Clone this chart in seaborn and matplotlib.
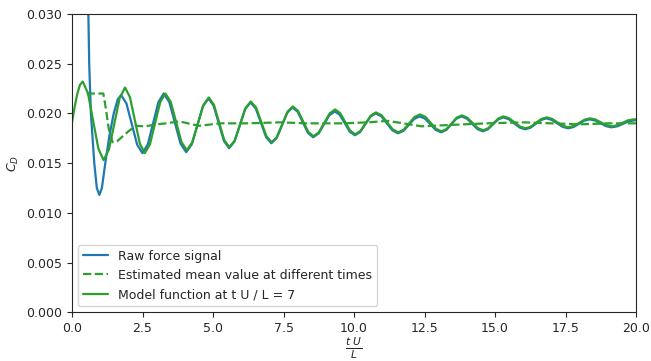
import numpy as np
import pandas as pd
import matplotlib
matplotlib.use('Agg')
import matplotlib.pyplot as plt
import seaborn as sns

# ---------------- values ----------------
# raw force signal (blue)
raw_t = [0.50, 0.58, 0.61, 0.67, 0.79, 0.88, 0.97, 1.06, 1.18, 1.33, 1.48, 1.62, 1.74,
         1.93, 2.12, 2.31, 2.50, 2.6875, 2.875, 3.0625, 3.25,
         3.45, 3.65, 3.85, 4.05, 4.2475, 4.445, 4.6425, 4.84,
         5.0225, 5.205, 5.3875, 5.57, 5.76, 5.95, 6.14, 6.33,
         6.515, 6.70, 6.885, 7.07, 7.2575, 7.445, 7.6325, 7.82,
         8.0025, 8.185, 8.3675, 8.55, 8.7425, 8.935, 9.1275, 9.32,
         9.4975, 9.675, 9.8525, 10.03, 10.215, 10.40, 10.585, 10.77,
         10.9675, 11.165, 11.3625, 11.56, 11.7525, 11.945, 12.1375, 12.33,
         12.52, 12.71, 12.90, 13.09, 13.27, 13.45, 13.63, 13.81,
         14.00, 14.19, 14.38, 14.57, 14.75, 14.93, 15.11, 15.29,
         15.485, 15.68, 15.875, 16.07, 16.2575, 16.445, 16.6325, 16.82,
         17.0125, 17.205, 17.3975, 17.59, 17.7825, 17.975, 18.1675, 18.36,
         18.5525, 18.745, 18.9375, 19.13, 19.3325, 19.535, 19.7375, 19.94, 20.0]
raw_cd = [0.0400, 0.0300, 0.0250, 0.0200, 0.0150, 0.0125, 0.0118, 0.0125, 0.0150, 0.0178, 0.0200, 0.0214, 0.02185,
          0.0210, 0.01893, 0.01686, 0.0160, 0.01688, 0.0190, 0.02112, 0.0220,
          0.02114, 0.01905, 0.01696, 0.0161, 0.01689, 0.0188, 0.02071, 0.0215,
          0.02077, 0.0190, 0.01723, 0.0165, 0.01717, 0.0188, 0.02043, 0.0211,
          0.0205, 0.01905, 0.0176, 0.0170, 0.01753, 0.0188, 0.02007, 0.0206,
          0.02016, 0.0191, 0.01804, 0.0176, 0.01798, 0.0189, 0.01982, 0.0202,
          0.01985, 0.0190, 0.01815, 0.0178, 0.01812, 0.0189, 0.01968, 0.0200,
          0.01971, 0.0190, 0.01829, 0.0180, 0.01825, 0.01885, 0.01945, 0.0197,
          0.01947, 0.0189, 0.01833, 0.0181, 0.01833, 0.0189, 0.01947, 0.0197,
          0.01948, 0.01895, 0.01842, 0.0182, 0.01841, 0.0189, 0.01939, 0.0196,
          0.01942, 0.0190, 0.01858, 0.0184, 0.01856, 0.01895, 0.01934, 0.0195,
          0.01935, 0.0190, 0.01865, 0.0185, 0.01863, 0.01895, 0.01927, 0.0194,
          0.01928, 0.0190, 0.01872, 0.0186, 0.0187, 0.01895, 0.0192, 0.0193, 0.0193]

# estimated mean value (green dashed)
mean_t = [0.52, 1.11, 1.20, 1.30, 1.44, 1.60, 1.80, 2.00, 2.27, 2.60, 3.00, 3.33, 3.80,
          4.50, 5.25, 6.20, 7.40, 8.30, 9.60, 10.50, 11.20, 12.40, 13.50, 14.70,
          16.00, 17.00, 18.00, 19.00, 20.00]
mean_cd = [0.0220, 0.0220, 0.0205, 0.0185, 0.0171, 0.0172, 0.0177, 0.0182, 0.01875, 0.0187, 0.0189, 0.0190, 0.0192,
           0.01875, 0.0190, 0.0190, 0.0191, 0.0190, 0.0190, 0.0191, 0.01925, 0.0187, 0.01885, 0.0190,
           0.0191, 0.0190, 0.0189, 0.0190, 0.0190]

# model function (green solid)
model_t = [0.0, 0.095, 0.19, 0.285, 0.38,
           0.565, 0.75, 0.935, 1.12, 1.31, 1.50, 1.69, 1.88,
           2.055, 2.23, 2.405, 2.58, 2.7625, 2.945, 3.1275, 3.31,
           3.50, 3.69, 3.88, 4.07, 4.265, 4.46, 4.655, 4.85,
           5.0325, 5.215, 5.3975, 5.58, 5.77, 5.96, 6.15, 6.34,
           6.525, 6.71, 6.895, 7.08, 7.2675, 7.455, 7.6425, 7.83,
           8.0125, 8.195, 8.3775, 8.56, 8.7525, 8.945, 9.1375, 9.33,
           9.5075, 9.685, 9.8625, 10.04, 10.225, 10.41, 10.595, 10.78,
           10.9775, 11.175, 11.3725, 11.57, 11.7625, 11.955, 12.1475, 12.34,
           12.53, 12.72, 12.91, 13.10, 13.28, 13.46, 13.64, 13.82,
           14.01, 14.20, 14.39, 14.58, 14.76, 14.94, 15.12, 15.30,
           15.495, 15.69, 15.885, 16.08, 16.2675, 16.455, 16.6425, 16.83,
           17.0225, 17.215, 17.4075, 17.60, 17.7925, 17.985, 18.1775, 18.37,
           18.5625, 18.755, 18.9475, 19.14, 19.33, 19.52, 19.71, 19.93, 20.0]
model_cd = [0.0191, 0.02067, 0.0220, 0.02289, 0.0232,
            0.02204, 0.01925, 0.01646, 0.0153, 0.01637, 0.01895, 0.02153, 0.0226,
            0.02163, 0.0193, 0.01697, 0.0160, 0.01688, 0.0190, 0.02112, 0.0220,
            0.02117, 0.01915, 0.01713, 0.0163, 0.01708, 0.01895, 0.02082, 0.0216,
            0.02087, 0.0191, 0.01733, 0.0166, 0.01727, 0.0189, 0.02053, 0.0212,
            0.0206, 0.01915, 0.0177, 0.0171, 0.01763, 0.0189, 0.02017, 0.0207,
            0.02026, 0.0192, 0.01814, 0.0177, 0.0181, 0.01905, 0.0200, 0.0204,
            0.02003, 0.01915, 0.01827, 0.0179, 0.01822, 0.0190, 0.01978, 0.0201,
            0.01981, 0.0191, 0.01839, 0.0181, 0.01836, 0.0190, 0.01964, 0.0199,
            0.01965, 0.01905, 0.01845, 0.0182, 0.01843, 0.0190, 0.01957, 0.0198,
            0.01958, 0.01905, 0.01852, 0.0183, 0.01851, 0.0190, 0.01949, 0.0197,
            0.01952, 0.0191, 0.01868, 0.0185, 0.01866, 0.01905, 0.01944, 0.0196,
            0.01945, 0.0191, 0.01875, 0.0186, 0.01873, 0.01905, 0.01937, 0.0195,
            0.01938, 0.0191, 0.01882, 0.0187, 0.0188, 0.01905, 0.0193, 0.0194, 0.0194]

# ---------------- plot ----------------
sns.set_style('ticks')
plt.rcParams['font.family'] = ['DejaVu Sans']
plt.rcParams['xtick.labelsize'] = 9
plt.rcParams['ytick.labelsize'] = 9

fig = plt.figure(figsize=(6.51, 3.61), dpi=100)
ax = fig.add_axes([0.1106, 0.135, 0.8664, 0.8263])

sns.lineplot(x=raw_t, y=raw_cd, ax=ax, color='tab:blue', lw=1.6,
             label='Raw force signal', estimator=None, sort=False)
sns.lineplot(x=mean_t, y=mean_cd, ax=ax, color='tab:green', lw=1.6, linestyle='--',
             label='Estimated mean value at different times', estimator=None, sort=False)
sns.lineplot(x=model_t, y=model_cd, ax=ax, color='tab:green', lw=1.6,
             label='Model function at t U / L = 7', estimator=None, sort=False)

ax.set_xlim(0, 20)
ax.set_ylim(0, 0.03)
ax.set_xlabel(r'$\frac{t\ U}{L}$', fontsize=11, labelpad=0)
ax.set_ylabel(r'$C_D$', fontsize=9)
ax.legend(loc='lower left', fontsize=9)

fig.savefig('out.png', dpi=100)
